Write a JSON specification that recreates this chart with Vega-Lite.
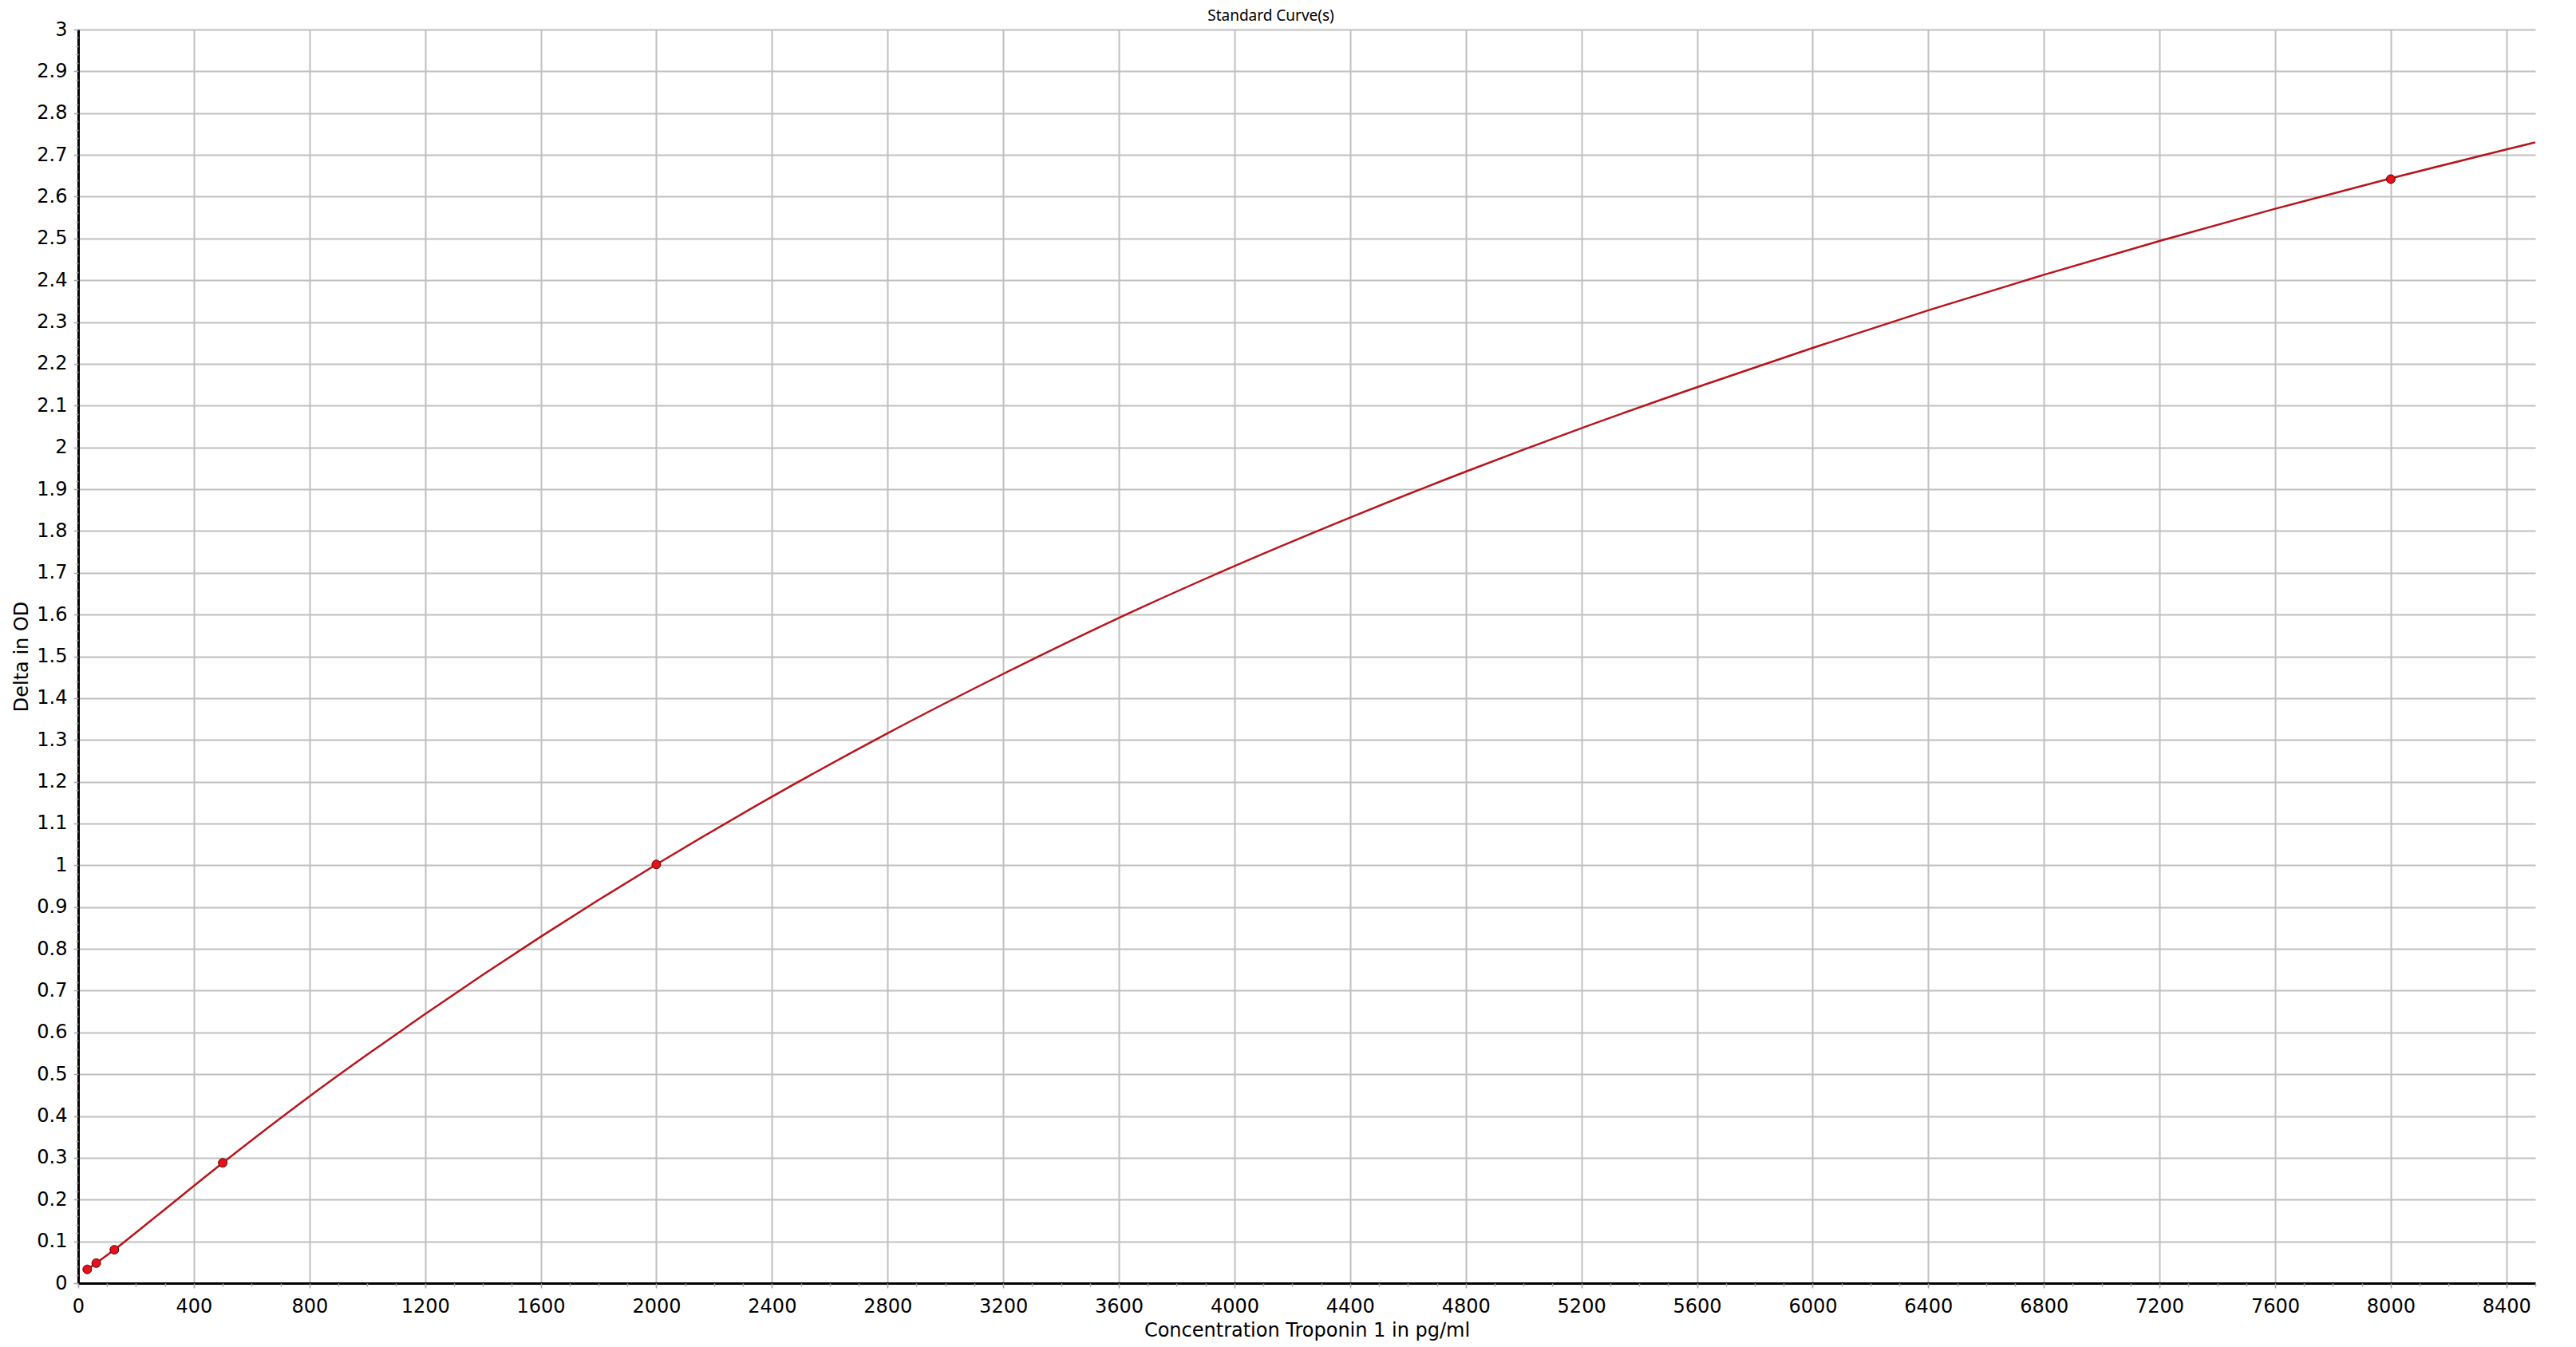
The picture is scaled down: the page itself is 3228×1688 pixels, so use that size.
{
  "$schema": "https://vega.github.io/schema/vega-lite/v6.json",
  "width": 3079,
  "height": 1571,
  "autosize": {"type": "none"},
  "padding": {"left": 98, "top": 37, "right": 51, "bottom": 80},
  "background": "white",
  "title": {
    "text": "Standard Curve(s)",
    "font": "Noto Sans",
    "fontSize": 19,
    "fontWeight": "normal",
    "color": "black",
    "anchor": "middle",
    "frame": "group",
    "baseline": "alphabetic",
    "dx": -45,
    "offset": -20
  },
  "datasets": {
    "curve": [
      {"conc": 31.25, "od": 0.033},
      {"conc": 62.5, "od": 0.048},
      {"conc": 125, "od": 0.08},
      {"conc": 250, "od": 0.149},
      {"conc": 500, "od": 0.288},
      {"conc": 800, "od": 0.447},
      {"conc": 1000, "od": 0.547},
      {"conc": 1200, "od": 0.644},
      {"conc": 1400, "od": 0.738},
      {"conc": 1600, "od": 0.829},
      {"conc": 1800, "od": 0.917},
      {"conc": 2000, "od": 1.002},
      {"conc": 2400, "od": 1.164},
      {"conc": 2800, "od": 1.316},
      {"conc": 3200, "od": 1.458},
      {"conc": 3600, "od": 1.592},
      {"conc": 4000, "od": 1.716},
      {"conc": 4400, "od": 1.832},
      {"conc": 4800, "od": 1.942},
      {"conc": 5200, "od": 2.046},
      {"conc": 5600, "od": 2.144},
      {"conc": 6000, "od": 2.238},
      {"conc": 6400, "od": 2.328},
      {"conc": 6800, "od": 2.413},
      {"conc": 7200, "od": 2.494},
      {"conc": 7600, "od": 2.571},
      {"conc": 8000, "od": 2.644},
      {"conc": 8400, "od": 2.713},
      {"conc": 8500, "od": 2.73}
    ],
    "standards": [
      {"conc": 31.25, "od": 0.033},
      {"conc": 62.5, "od": 0.048},
      {"conc": 125, "od": 0.08},
      {"conc": 500, "od": 0.288},
      {"conc": 2000, "od": 1.002},
      {"conc": 8000, "od": 2.642}
    ]
  },
  "config": {
    "view": {"stroke": null},
    "axis": {
      "labelFont": "DejaVu Sans",
      "labelFontSize": 24,
      "labelColor": "black",
      "labelFlush": false,
      "labelOverlap": false,
      "titleFont": "DejaVu Sans",
      "titleFontSize": 24,
      "titleFontWeight": "normal",
      "titleColor": "black",
      "gridColor": "#c0c0c0",
      "gridWidth": 2,
      "gridOpacity": 1,
      "tickColor": "#a8a8a8",
      "tickWidth": 1.5,
      "domainColor": "black",
      "domainWidth": 3
    }
  },
  "layer": [
    {
      "data": {"name": "curve"},
      "mark": {"type": "line", "color": "#b8141c", "strokeWidth": 2.5, "interpolate": "monotone"},
      "encoding": {
        "x": {
          "field": "conc",
          "type": "quantitative",
          "scale": {"domain": [0, 8500], "nice": false, "zero": false},
          "axis": {
            "orient": "bottom",
            "values": [0, 400, 800, 1200, 1600, 2000, 2400, 2800, 3200, 3600, 4000, 4400, 4800, 5200, 5600, 6000, 6400, 6800, 7200, 7600, 8000, 8400],
            "labelExpr": "datum.value + ''",
            "grid": true,
            "tickSize": 6,
            "labelPadding": 11,
            "title": "Concentration Troponin 1 in pg/ml",
            "titlePadding": 6
          }
        },
        "y": {
          "field": "od",
          "type": "quantitative",
          "scale": {"domain": [0, 3], "nice": false, "zero": false},
          "axis": {
            "orient": "left",
            "values": [0, 0.1, 0.2, 0.3, 0.4, 0.5, 0.6, 0.7, 0.8, 0.9, 1, 1.1, 1.2, 1.3, 1.4, 1.5, 1.6, 1.7, 1.8, 1.9, 2, 2.1, 2.2, 2.3, 2.4, 2.5, 2.6, 2.7, 2.8, 2.9, 3],
            "labelExpr": "datum.value + ''",
            "grid": true,
            "tickSize": 6,
            "labelPadding": 8,
            "title": "Delta in OD",
            "titlePadding": 6
          }
        }
      }
    },
    {
      "data": {"name": "standards"},
      "mark": {"type": "circle", "fill": "#e8101a", "stroke": "#5a0000", "strokeWidth": 1, "size": 120, "opacity": 1},
      "encoding": {
        "x": {
          "field": "conc",
          "type": "quantitative",
          "scale": {"domain": [0, 8500], "nice": false, "zero": false},
          "axis": {
            "orient": "bottom",
            "values": [0, 100, 200, 300, 400, 500, 600, 700, 800, 900, 1000, 1100, 1200, 1300, 1400, 1500, 1600, 1700, 1800, 1900, 2000, 2100, 2200, 2300, 2400, 2500, 2600, 2700, 2800, 2900, 3000, 3100, 3200, 3300, 3400, 3500, 3600, 3700, 3800, 3900, 4000, 4100, 4200, 4300, 4400, 4500, 4600, 4700, 4800, 4900, 5000, 5100, 5200, 5300, 5400, 5500, 5600, 5700, 5800, 5900, 6000, 6100, 6200, 6300, 6400, 6500, 6600, 6700, 6800, 6900, 7000, 7100, 7200, 7300, 7400, 7500, 7600, 7700, 7800, 7900, 8000, 8100, 8200, 8300, 8400, 8500],
            "grid": false,
            "labels": false,
            "domain": false,
            "tickSize": 4,
            "title": null
          }
        },
        "y": {
          "field": "od",
          "type": "quantitative",
          "scale": {"domain": [0, 3], "nice": false, "zero": false},
          "axis": {
            "orient": "left",
            "values": [0, 0.02, 0.04, 0.06, 0.08, 0.1, 0.12, 0.14, 0.16, 0.18, 0.2, 0.22, 0.24, 0.26, 0.28, 0.3, 0.32, 0.34, 0.36, 0.38, 0.4, 0.42, 0.44, 0.46, 0.48, 0.5, 0.52, 0.54, 0.56, 0.58, 0.6, 0.62, 0.64, 0.66, 0.68, 0.7, 0.72, 0.74, 0.76, 0.78, 0.8, 0.82, 0.84, 0.86, 0.88, 0.9, 0.92, 0.94, 0.96, 0.98, 1, 1.02, 1.04, 1.06, 1.08, 1.1, 1.12, 1.14, 1.16, 1.18, 1.2, 1.22, 1.24, 1.26, 1.28, 1.3, 1.32, 1.34, 1.36, 1.38, 1.4, 1.42, 1.44, 1.46, 1.48, 1.5, 1.52, 1.54, 1.56, 1.58, 1.6, 1.62, 1.64, 1.66, 1.68, 1.7, 1.72, 1.74, 1.76, 1.78, 1.8, 1.82, 1.84, 1.86, 1.88, 1.9, 1.92, 1.94, 1.96, 1.98, 2, 2.02, 2.04, 2.06, 2.08, 2.1, 2.12, 2.14, 2.16, 2.18, 2.2, 2.22, 2.24, 2.26, 2.28, 2.3, 2.32, 2.34, 2.36, 2.38, 2.4, 2.42, 2.44, 2.46, 2.48, 2.5, 2.52, 2.54, 2.56, 2.58, 2.6, 2.62, 2.64, 2.66, 2.68, 2.7, 2.72, 2.74, 2.76, 2.78, 2.8, 2.82, 2.84, 2.86, 2.88, 2.9, 2.92, 2.94, 2.96, 2.98, 3],
            "grid": false,
            "labels": false,
            "domain": false,
            "tickSize": 3,
            "title": null
          }
        }
      }
    }
  ],
  "resolve": {"axis": {"x": "independent", "y": "independent"}}
}
